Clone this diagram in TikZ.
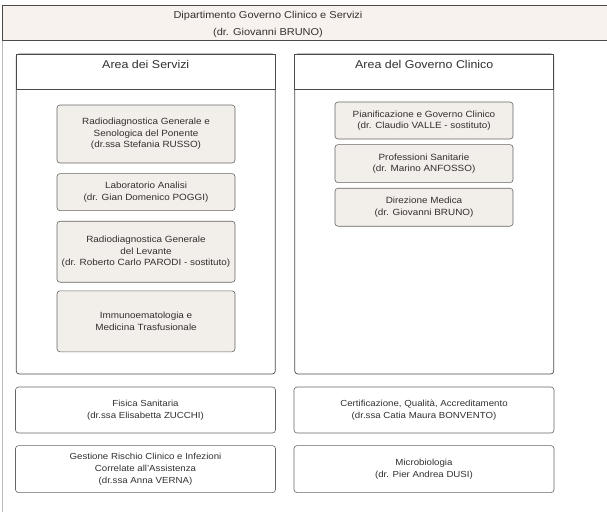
\documentclass[tikz,border=0pt]{standalone}
\usepackage{fontspec}
\setmainfont{Liberation Sans}[FakeStretch=1.1]
\usepackage{xcolor}
\usetikzlibrary{positioning}

\definecolor{headfill}{HTML}{F8F2EE}
\definecolor{unitfill}{HTML}{F2EEEA}
\definecolor{inkgray}{HTML}{333030}
\definecolor{linedark}{HTML}{4A4A4A}
\definecolor{linemid}{HTML}{666666}
\definecolor{framegray}{HTML}{BBBBBB}

\begin{document}
\begin{tikzpicture}[
    x=1pt, y=-1pt,
    head/.style={
        draw=linedark,
        fill=headfill,
        line width=0.9pt,
        minimum width=618pt,
        minimum height=35pt
    },
    headtext/.style={
        align=center,
        inner sep=0pt,
        text=inkgray,
        font=\fontsize{10}{17}\selectfont
    },
    area/.style={
        draw=linedark,
        fill=white,
        line width=0.7pt,
        rounded corners=3pt,
        minimum width=259pt,
        minimum height=320pt
    },
    areatitle/.style={
        draw=linedark,
        fill=white,
        line width=0.7pt,
        minimum width=259pt,
        minimum height=35pt
    },
    titletext/.style={
        anchor=north,
        inner sep=0pt,
        yshift=-6pt,
        text=inkgray,
        font=\fontsize{11.3}{13}\selectfont
    },
    unit/.style={
        draw=linemid,
        fill=unitfill,
        line width=0.6pt,
        rounded corners=3pt,
        minimum width=178pt,
        align=center,
        text=inkgray,
        font=\fontsize{9}{11.5}\selectfont
    },
    staff/.style={
        draw=linemid,
        fill=white,
        line width=0.6pt,
        rounded corners=3pt,
        minimum width=260pt,
        align=center,
        text=inkgray,
        font=\fontsize{8.8}{12.3}\selectfont
    },
    frame/.style={draw=framegray, line width=0.8pt}
]
\useasboundingbox (0,0) rectangle (607,515);

\node[head,
  label={[headtext, xshift=-43pt, yshift=-1.5pt]center:Dipartimento Governo Clinico e Servizi\\(dr. Giovanni BRUNO)}]
  (dip) at (311,23.3) {};
\coordinate (framebot) at (2.8,512);
\draw[frame] (framebot |- dip.south) -- (framebot);

% the two areas
\node[area] (servizi) at (145.75,214) {};
\node[areatitle, anchor=north, label={[titletext]north:Area dei Servizi}]
  (servizititle) at (servizi.north) {};
\node[area] (governo) at (424.25,214) {};
\node[areatitle, anchor=north, label={[titletext]north:Area del Governo Clinico}]
  (governotitle) at (governo.north) {};

% units of the Area dei Servizi
\node[unit, minimum height=58pt] (radioponente) at (146,134)
  {Radiodiagnostica Generale e\\Senologica del Ponente\\(dr.ssa Stefania RUSSO)};
\node[unit, minimum height=37pt, below=10pt of radioponente] (laboratorio)
  {Laboratorio Analisi\\(dr. Gian Domenico POGGI)};
\node[unit, minimum height=61pt, below=10pt of laboratorio] (radiolevante)
  {Radiodiagnostica Generale\\del Levante\\(dr. Roberto Carlo PARODI - sostituto)};
\node[unit, minimum height=61pt, below=8pt of radiolevante] (immuno)
  {Immunoematologia e\\Medicina Trasfusionale};

% units of the Area del Governo Clinico
\node[unit, minimum height=37pt] (pianificazione) at (424,120.5)
  {Pianificazione e Governo Clinico\\(dr. Claudio VALLE - sostituto)};
\node[unit, minimum height=38pt, below=5pt of pianificazione] (professioni)
  {Professioni Sanitarie\\(dr. Marino ANFOSSO)};
\node[unit, minimum height=38pt, below=5pt of professioni] (direzione)
  {Direzione Medica\\(dr. Giovanni BRUNO)};

% staff units
\node[staff, minimum height=46pt] (fisica) at (145.5,410)
  {Fisica Sanitaria\\(dr.ssa Elisabetta ZUCCHI)};
\node[staff, minimum height=47pt, below=12pt of fisica] (rischio)
  {Gestione Rischio Clinico e Infezioni\\Correlate all'Assistenza\\(dr.ssa Anna VERNA)};
\node[staff, minimum height=46pt] (certificazione) at (424,410)
  {Certificazione, Qualità, Accreditamento\\(dr.ssa Catia Maura BONVENTO)};
\node[staff, minimum height=47pt, below=12pt of certificazione] (microbiologia)
  {Microbiologia\\(dr. Pier Andrea DUSI)};
\end{tikzpicture}
\end{document}
